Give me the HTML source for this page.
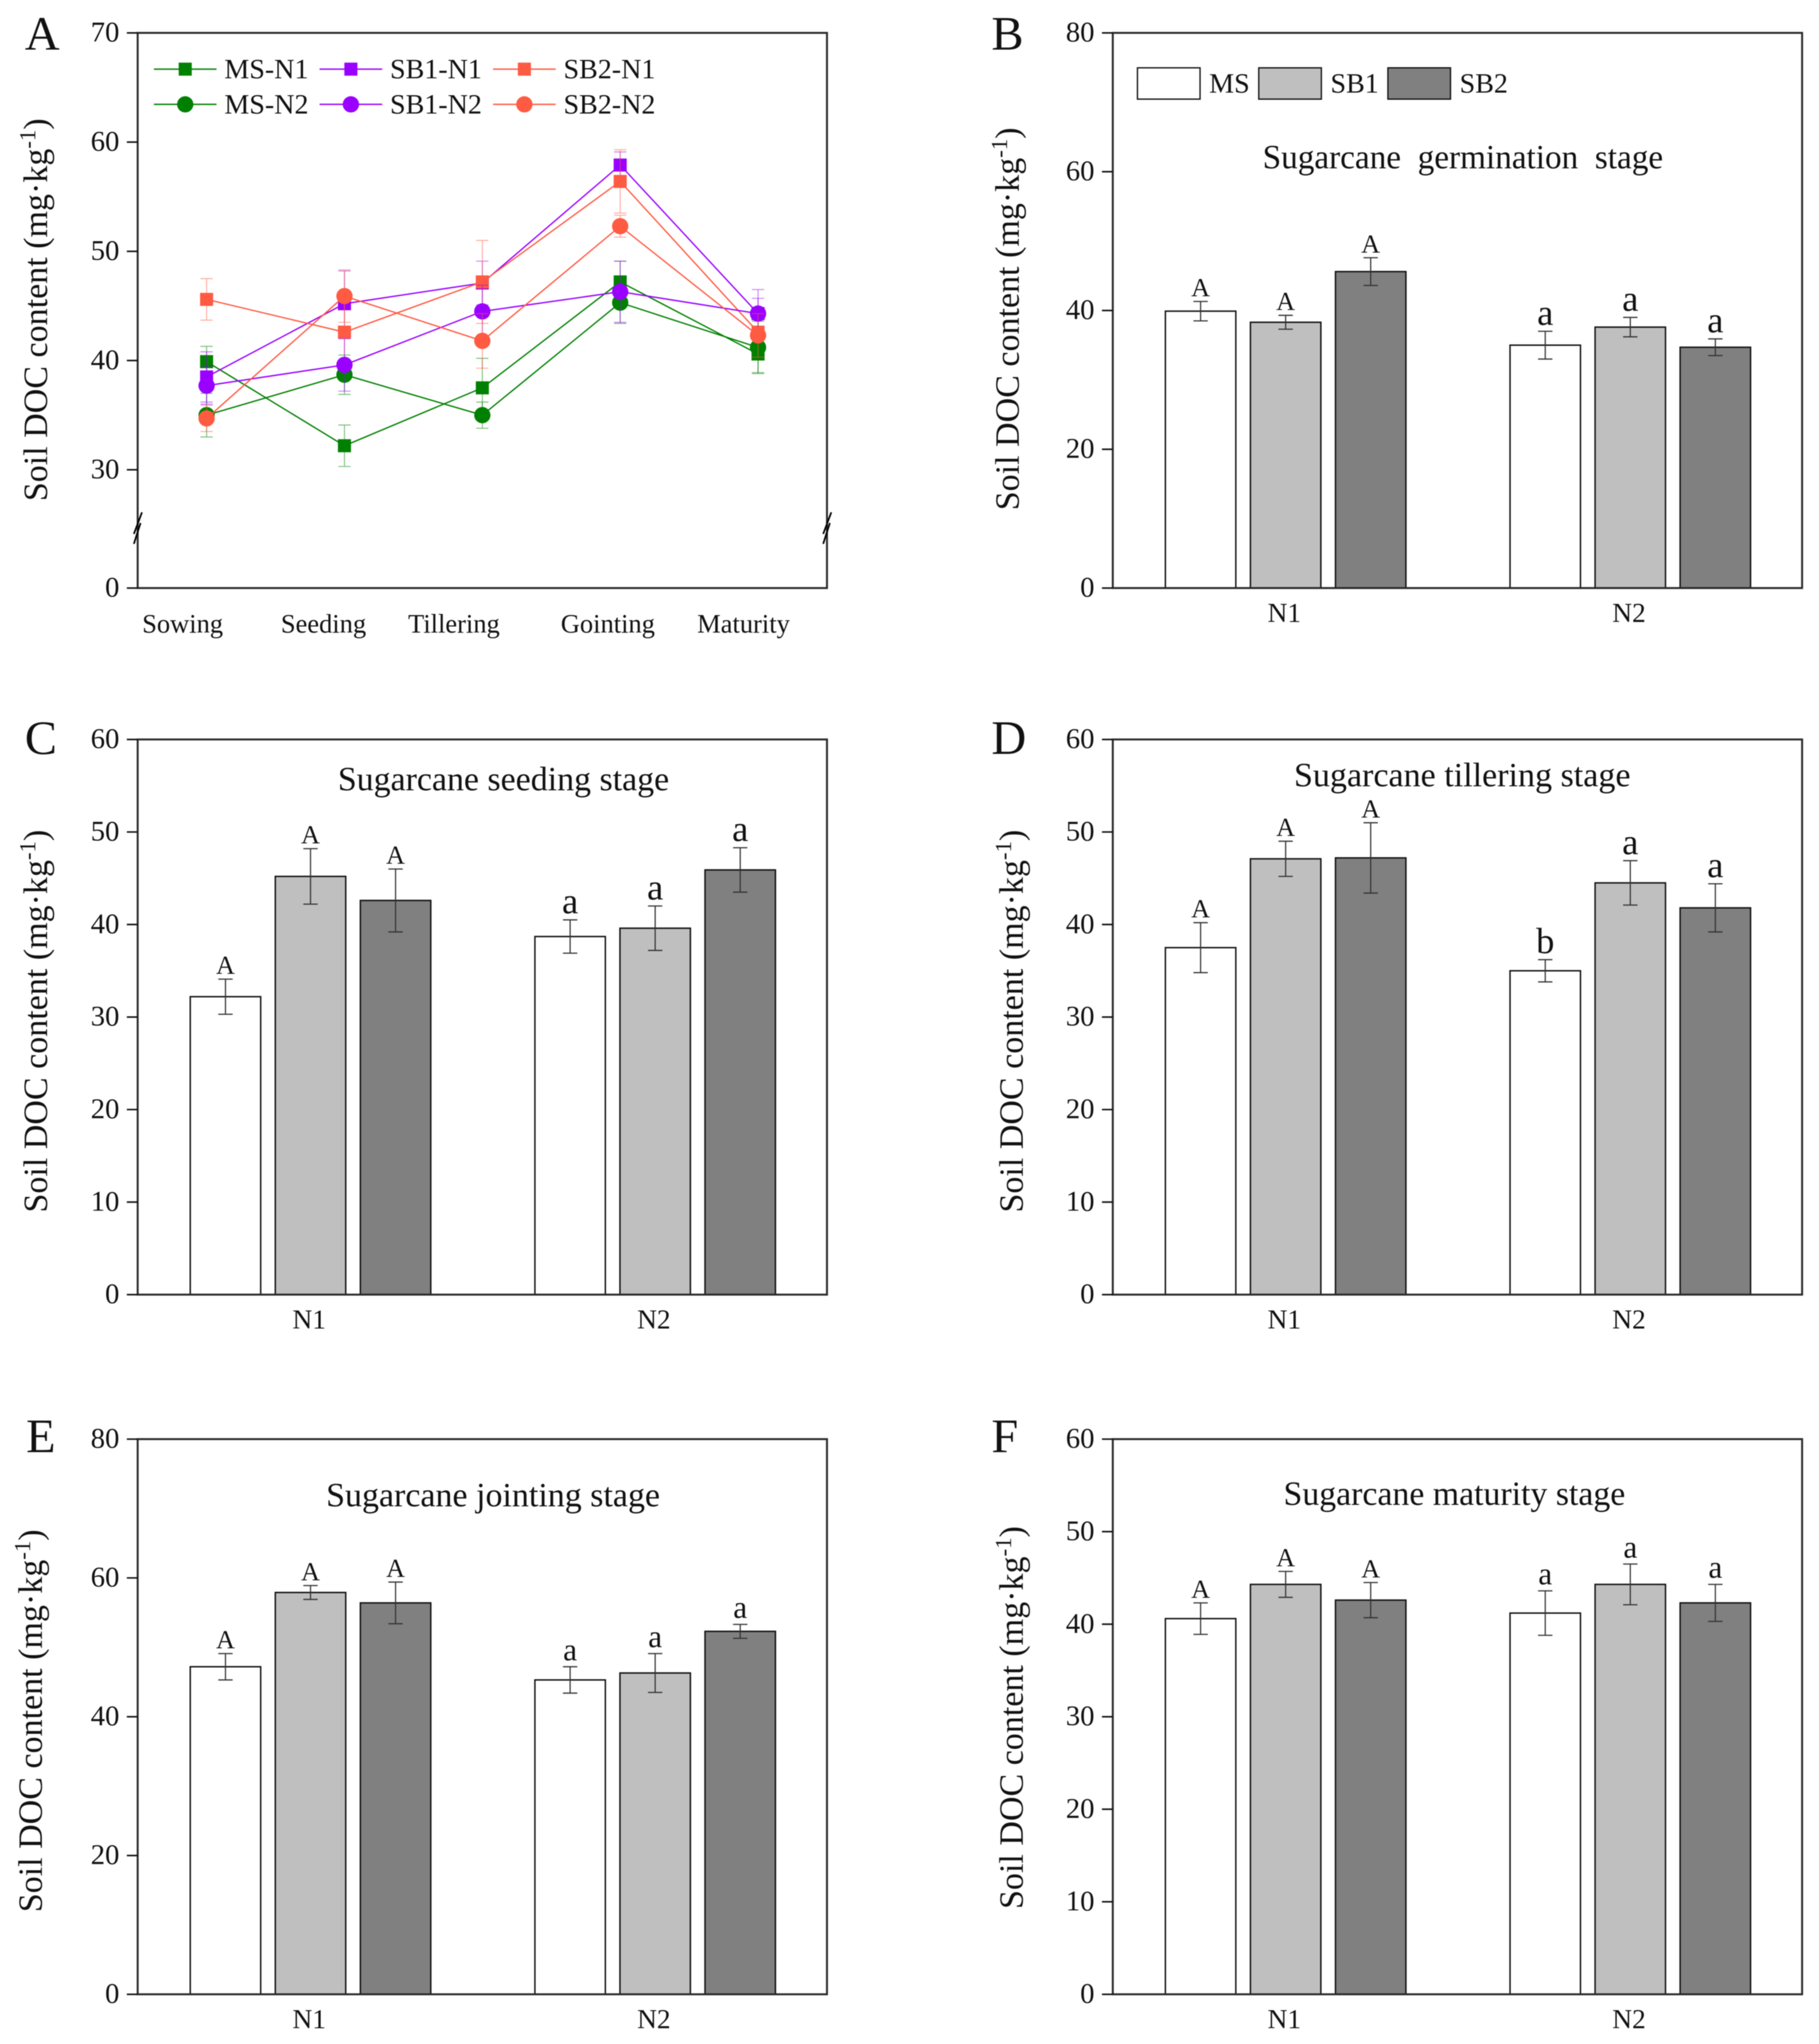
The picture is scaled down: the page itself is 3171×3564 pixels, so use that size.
<!DOCTYPE html>
<html lang="en">
<head>
<meta charset="utf-8">
<title>Soil DOC content across sugarcane growth stages</title>
<style>
html,body{margin:0;padding:0;background:#fff}
svg{display:block;filter:blur(0.7px)}
text{font-family:"Liberation Serif","Times New Roman",serif;fill:#111}
</style>
</head>
<body>
<svg id="figure" xmlns="http://www.w3.org/2000/svg" width="3171" height="3564" viewBox="0 0 1394.5 1567.3"></svg>
<script>
// ---- Panel A data ----
const stages = ['Sowing', 'Seeding', 'Tillering', 'Gointing', 'Maturity'];
const lineTicks = [0, 30, 40, 50, 60, 70];
const msN1Values = [39.9, 32.2, 37.5, 47.2, 40.6];
const msN1Errors = [1.4, 1.9, 2.7, 1.9, 1.7];
const sb1N1Values = [38.5, 45.2, 47.1, 57.9, 44.3];
const sb1N1Errors = [2.3, 3.0, 2.0, 1.2, 1.4];
const sb2N1Values = [45.6, 42.6, 47.2, 56.4, 42.6];
const sb2N1Errors = [1.9, 3.4, 3.8, 2.9, 1.9];
const msN2Values = [35.0, 38.7, 35.0, 45.3, 41.2];
const msN2Errors = [2.0, 1.8, 1.2, 1.9, 2.4];
const sb1N2Values = [37.7, 39.6, 44.5, 46.3, 44.3];
const sb1N2Errors = [1.7, 2.4, 2.4, 2.8, 2.2];
const sb2N2Values = [34.7, 45.9, 41.8, 52.3, 42.3];
const sb2N2Errors = [1.2, 2.4, 2.5, 1.0, 2.0];

// ---- Bar panel data ----
const groups = ['N1', 'N2'];
const treatments = ['MS', 'SB1', 'SB2'];
const germinationTicks = [0, 20, 40, 60, 80];
const germinationValues = [39.9, 38.3, 45.6, 35.0, 37.6, 34.7];
const germinationErrors = [1.4, 1.0, 2.0, 2.0, 1.4, 1.2];
const germinationLetters = ['A', 'A', 'A', 'a', 'a', 'a'];
const seedingTicks = [0, 10, 20, 30, 40, 50, 60];
const seedingValues = [32.2, 45.2, 42.6, 38.7, 39.6, 45.9];
const seedingErrors = [1.9, 3.0, 3.4, 1.8, 2.4, 2.4];
const seedingLetters = ['A', 'A', 'A', 'a', 'a', 'a'];
const tilleringTicks = [0, 10, 20, 30, 40, 50, 60];
const tilleringValues = [37.5, 47.1, 47.2, 35.0, 44.5, 41.8];
const tilleringErrors = [2.7, 1.9, 3.8, 1.2, 2.4, 2.6];
const tilleringLetters = ['A', 'A', 'A', 'b', 'a', 'a'];
const jointingTicks = [0, 20, 40, 60, 80];
const jointingValues = [47.2, 57.9, 56.4, 45.3, 46.3, 52.3];
const jointingErrors = [1.9, 1.0, 3.0, 1.9, 2.8, 1.0];
const jointingLetters = ['A', 'A', 'A', 'a', 'a', 'a'];
const maturityTicks = [0, 10, 20, 30, 40, 50, 60];
const maturityValues = [40.6, 44.3, 42.6, 41.2, 44.3, 42.3];
const maturityErrors = [1.7, 1.4, 1.9, 2.4, 2.2, 2.0];
const maturityLetters = ['A', 'A', 'A', 'a', 'a', 'a'];

const svg = document.getElementById('figure');
const NS = 'http://www.w3.org/2000/svg';
const INK = '#111';
const FRAME_INK = '#2a2a2a';
const PLOT_W = 528.45;
const PLOT_H = 425.7;

function make(tag, attrs, parent) {
  const node = document.createElementNS(NS, tag);
  for (const key in attrs) node.setAttribute(key, attrs[key]);
  (parent || svg).appendChild(node);
  return node;
}
function group(name) {
  const g = make('g', {});
  
  
  return g;
}

function drawFrame(g, L, R, T, B, ticks, yScale) {
  const frame = make('rect', {x: L, y: T, width: R - L, height: B - T, fill: 'none', stroke: FRAME_INK, 'stroke-width': 1.5}, g);
  
  
  ticks.forEach(function (t) {
    const y = yScale(t);
    const tick = make('line', {x1: L - 8.3, x2: L, y1: y, y2: y, stroke: INK, 'stroke-width': 1.2}, g);
    
    
    const label = make('text', {x: L - 14, y: y + 6.5, 'text-anchor': 'end', 'font-size': 22}, g);
    label.textContent = t;
    
    
  });
}

function drawAxisTitle(g, cx, top, bottom) {
  const mid = (top + bottom) / 2;
  const title = make('text', {
    transform: 'translate(' + (cx + 9) + ' ' + mid + ') rotate(-90)',
    'text-anchor': 'middle', 'font-size': 26.1
  }, g);
  
  
  const t1 = make('tspan', {}, title);
  t1.textContent = 'Soil DOC content (mg\u00B7kg';
  const t2 = make('tspan', {dy: -9, 'font-size': 17.5}, title);
  t2.textContent = '-1';
  const t3 = make('tspan', {dy: 9}, title);
  t3.textContent = ')';
}

function drawPanelLetter(g, letter, x, y) {
  const t = make('text', {x: x, y: y, 'font-size': 37}, g);
  t.textContent = letter;
  
  
}

function drawBarPanel(opts, ticks, values, errors, letters) {
  const g = group('panel-' + opts.letter);
  const L = opts.L, R = opts.L + PLOT_W, T = opts.T, B = opts.T + PLOT_H;
  const maxTick = ticks[ticks.length - 1];
  const yScale = function (v) { return B - (B - T) * v / maxTick; };
  const groupCentre = function (i) { return L + (R - L) * (i + 0.5) / groups.length + 0.4; };
  const barWidth = 54, barStep = 65.2;
  const fills = ['#ffffff', '#bfbfbf', '#808080'];

  values.forEach(function (v, idx) {
    const gi = Math.floor(idx / treatments.length);
    const si = idx % treatments.length;
    const cx = groupCentre(gi) + (si - 1) * barStep;
    const top = yScale(v);
    const bar = make('rect', {x: cx - barWidth / 2, y: top, width: barWidth, height: B - top, fill: fills[si], stroke: INK, 'stroke-width': 1.1}, g);
    
    
    const hi = yScale(v + errors[idx]), lo = yScale(v - errors[idx]);
    const err = make('path', {d: 'M' + (cx - 5.5) + ' ' + hi + 'H' + (cx + 5.5) + 'M' + cx + ' ' + hi + 'V' + lo + 'M' + (cx - 5.5) + ' ' + lo + 'H' + (cx + 5.5), fill: 'none', stroke: '#333', 'stroke-width': 0.9}, g);
    
    
    const isUpper = letters[idx] === letters[idx].toUpperCase();
    const letter = make('text', {x: cx, y: hi - (isUpper ? 4 : 5), 'text-anchor': 'middle', 'font-size': isUpper ? 20 : opts.lowerSize}, g);
    letter.textContent = letters[idx];
    
    
  });

  drawFrame(g, L, R, T, B, ticks, yScale);

  groups.forEach(function (name, i) {
    const label = make('text', {x: groupCentre(i) - 1, y: B + 26, 'text-anchor': 'middle', 'font-size': 21}, g);
    label.textContent = name;
    
    
  });

  const title = make('text', {x: opts.titleX, y: opts.titleY, 'font-size': 26, style: 'white-space:pre', textLength: opts.titleWidth, lengthAdjust: 'spacingAndGlyphs'}, g);
  title.textContent = opts.title;
  
  

  drawAxisTitle(g, opts.axisX, opts.axisTop, opts.axisBottom);
  drawPanelLetter(g, opts.letter, opts.letterX, opts.letterY);
  return g;
}

// ---- Panel A ----
(function () {
  const g = group('panel-A');
  const L = 105.54, R = L + PLOT_W, T = 25.2, B = T + PLOT_H;
  const unit = 8.375;
  const yScale = function (v) { return v === 0 ? B : T + (70 - v) * unit; };
  const xScale = function (i) { return L + (R - L) * (i + 0.5) / stages.length; };

  const series = [
    {name: 'MS-N1', values: msN1Values, errors: msN1Errors, color: '#008000', marker: 'square'},
    {name: 'SB1-N1', values: sb1N1Values, errors: sb1N1Errors, color: '#9a00ff', marker: 'square'},
    {name: 'SB2-N1', values: sb2N1Values, errors: sb2N1Errors, color: '#ff5a42', marker: 'square'},
    {name: 'MS-N2', values: msN2Values, errors: msN2Errors, color: '#008000', marker: 'circle'},
    {name: 'SB1-N2', values: sb1N2Values, errors: sb1N2Errors, color: '#9a00ff', marker: 'circle'},
    {name: 'SB2-N2', values: sb2N2Values, errors: sb2N2Errors, color: '#ff5a42', marker: 'circle'}
  ];

  function marker(parent, kind, x, y, color, size) {
    let m;
    if (kind === 'square') {
      m = make('rect', {x: x - size / 2, y: y - size / 2, width: size, height: size, fill: color}, parent);
    } else {
      m = make('circle', {cx: x, cy: y, r: size / 2, fill: color}, parent);
    }
    return m;
  }

  series.forEach(function (s) {
    const sg = make('g', {}, g);
    
    
    s.values.forEach(function (v, i) {
      const x = xScale(i), hi = yScale(v + s.errors[i]), lo = yScale(v - s.errors[i]);
      const err = make('path', {d: 'M' + (x - 4.7) + ' ' + hi + 'H' + (x + 4.7) + 'M' + x + ' ' + hi + 'V' + lo + 'M' + (x - 4.7) + ' ' + lo + 'H' + (x + 4.7), fill: 'none', stroke: s.color, 'stroke-width': 0.7, opacity: 0.55}, sg);
      
      
    });
    const pts = s.values.map(function (v, i) { return xScale(i) + ',' + yScale(v); }).join(' ');
    const line = make('polyline', {points: pts, fill: 'none', stroke: s.color, 'stroke-width': 1}, sg);
    
    
    s.values.forEach(function (v, i) {
      const m = marker(sg, s.marker, xScale(i), yScale(v), s.color, s.marker === 'square' ? 10 : 12.5);
      
      
    });
  });

  drawFrame(g, L, R, T, B, lineTicks, yScale);

  // axis break marks on both vertical axes
  [L, R].forEach(function (x, i) {
    const bg = make('g', {}, g);
    
    
    make('line', {x1: x - 2.9, y1: 417, x2: x + 2.2, y2: 401, stroke: '#000', 'stroke-width': 1.3}, bg);
    make('line', {x1: x - 2.9, y1: 409.4, x2: x + 3.3, y2: 392.8, stroke: '#000', 'stroke-width': 1.3}, bg);
  });

  const stageLabelCentres = [140, 248, 348, 466, 570];
  stages.forEach(function (name, i) {
    const label = make('text', {x: stageLabelCentres[i], y: 485, 'text-anchor': 'middle', 'font-size': 20.3}, g);
    label.textContent = name;
    
    
  });

  // legend
  const legend = make('g', {}, g);
  
  
  const legendCols = [118, 245, 378];
  const legendRows = [53, 80];
  series.forEach(function (s, i) {
    const col = i % 3, row = Math.floor(i / 3);
    const x0 = legendCols[col], y0 = legendRows[row];
    const entry = make('g', {}, legend);
    
    
    make('line', {x1: x0, x2: x0 + 48, y1: y0, y2: y0, stroke: s.color, 'stroke-width': 1}, entry);
    marker(entry, s.marker, x0 + 24, y0, s.color, s.marker === 'square' ? 10 : 12.5);
    const text = make('text', {x: x0 + 54, y: y0 + 7, 'font-size': 21.5}, entry);
    text.textContent = s.name;
  });

  drawAxisTitle(g, 27, 90, 385);
  drawPanelLetter(g, 'A', 19, 38);
})();

// ---- Panels B-F ----
const panelB = drawBarPanel({letter: 'B', L: 853.1, T: 25.2, lowerSize: 28, title: 'Sugarcane  germination  stage', titleWidth: 307, titleX: 968, titleY: 129, axisX: 772, axisTop: 98, axisBottom: 391, letterX: 760, letterY: 38}, germinationTicks, germinationValues, germinationErrors, germinationLetters);
drawBarPanel({letter: 'C', L: 105.54, T: 567, lowerSize: 28, title: 'Sugarcane seeding stage', titleWidth: 254, titleX: 259, titleY: 606, axisX: 27, axisTop: 636, axisBottom: 930, letterX: 19, letterY: 578}, seedingTicks, seedingValues, seedingErrors, seedingLetters);
drawBarPanel({letter: 'D', L: 853.1, T: 567, lowerSize: 28, title: 'Sugarcane tillering stage', titleWidth: 258, titleX: 992, titleY: 603, axisX: 775, axisTop: 636, axisBottom: 930, letterX: 760, letterY: 578}, tilleringTicks, tilleringValues, tilleringErrors, tilleringLetters);
drawBarPanel({letter: 'E', L: 105.54, T: 1103.5, lowerSize: 24, title: 'Sugarcane jointing stage', titleWidth: 256, titleX: 250, titleY: 1155, axisX: 23, axisTop: 1172, axisBottom: 1467, letterX: 20, letterY: 1113.5}, jointingTicks, jointingValues, jointingErrors, jointingLetters);
drawBarPanel({letter: 'F', L: 853.1, T: 1103.5, lowerSize: 24, title: 'Sugarcane maturity stage', titleWidth: 262, titleX: 984, titleY: 1154, axisX: 775, axisTop: 1170, axisBottom: 1464, letterX: 760, letterY: 1113.5}, maturityTicks, maturityValues, maturityErrors, maturityLetters);

// ---- Panel B bar legend ----
(function () {
  const legend = make('g', {}, panelB);
  
  
  const swatchFills = ['#ffffff', '#bfbfbf', '#808080'];
  const swatchX = [872, 965, 1064];
  treatments.forEach(function (name, i) {
    const entry = make('g', {}, legend);
    
    
    make('rect', {x: swatchX[i], y: 52, width: 48, height: 24, fill: swatchFills[i], stroke: INK, 'stroke-width': 1}, entry);
    const text = make('text', {x: swatchX[i] + 55, y: 71, 'font-size': 21.5}, entry);
    text.textContent = name;
  });
})();
</script>
</body>
</html>
